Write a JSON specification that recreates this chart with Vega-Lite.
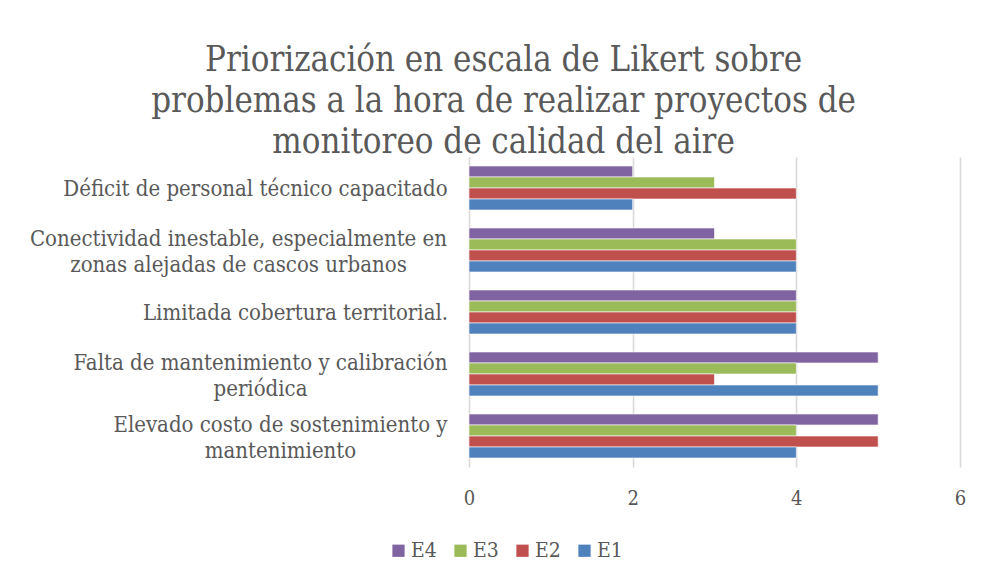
{
  "$schema": "https://vega.github.io/schema/vega-lite/v6.json",
  "width": 491,
  "height": 310,
  "autosize": {"type": "none"},
  "padding": {"left": 469, "top": 157, "right": 21, "bottom": 116},
  "background": "white",
  "title": {
    "text": ["Priorización en escala de Likert sobre", "problemas a la hora de realizar proyectos de", "monitoreo de calidad del aire"],
    "font": "DejaVu Serif Condensed",
    "fontSize": 34.5,
    "fontWeight": "normal",
    "color": "#595959",
    "lineHeight": 41,
    "anchor": "middle",
    "frame": "bounds",
    "offset": -3,
    "dx": 6
  },
  "data": {
    "values": [
      {"problema": "Déficit de personal técnico capacitado", "serie": "E4", "valor": 2},
      {"problema": "Déficit de personal técnico capacitado", "serie": "E3", "valor": 3},
      {"problema": "Déficit de personal técnico capacitado", "serie": "E2", "valor": 4},
      {"problema": "Déficit de personal técnico capacitado", "serie": "E1", "valor": 2},
      {"problema": "Conectividad inestable, especialmente en\nzonas alejadas de cascos urbanos", "serie": "E4", "valor": 3},
      {"problema": "Conectividad inestable, especialmente en\nzonas alejadas de cascos urbanos", "serie": "E3", "valor": 4},
      {"problema": "Conectividad inestable, especialmente en\nzonas alejadas de cascos urbanos", "serie": "E2", "valor": 4},
      {"problema": "Conectividad inestable, especialmente en\nzonas alejadas de cascos urbanos", "serie": "E1", "valor": 4},
      {"problema": "Limitada cobertura territorial.", "serie": "E4", "valor": 4},
      {"problema": "Limitada cobertura territorial.", "serie": "E3", "valor": 4},
      {"problema": "Limitada cobertura territorial.", "serie": "E2", "valor": 4},
      {"problema": "Limitada cobertura territorial.", "serie": "E1", "valor": 4},
      {"problema": "Falta de mantenimiento y calibración\nperiódica", "serie": "E4", "valor": 5},
      {"problema": "Falta de mantenimiento y calibración\nperiódica", "serie": "E3", "valor": 4},
      {"problema": "Falta de mantenimiento y calibración\nperiódica", "serie": "E2", "valor": 3},
      {"problema": "Falta de mantenimiento y calibración\nperiódica", "serie": "E1", "valor": 5},
      {"problema": "Elevado costo de sostenimiento y\nmantenimiento", "serie": "E4", "valor": 5},
      {"problema": "Elevado costo de sostenimiento y\nmantenimiento", "serie": "E3", "valor": 4},
      {"problema": "Elevado costo de sostenimiento y\nmantenimiento", "serie": "E2", "valor": 5},
      {"problema": "Elevado costo de sostenimiento y\nmantenimiento", "serie": "E1", "valor": 4}
    ]
  },
  "mark": {"type": "bar", "stroke": "white", "strokeWidth": 0.6},
  "encoding": {
    "y": {
      "field": "problema",
      "type": "nominal",
      "sort": null,
      "scale": {"paddingInner": 0.29, "paddingOuter": 0.145},
      "axis": {
        "title": null,
        "domain": false,
        "ticks": false,
        "labelExpr": "split(datum.label, '\\n')",
        "labelFont": "DejaVu Serif Condensed",
        "labelFontSize": 22,
        "labelColor": "#595959",
        "labelAlign": "center",
        "labelPadding": {
          "condition": [
            {"test": "indexof(datum.value, 'Conectividad') == 0", "value": 231},
            {"test": "indexof(datum.value, 'Falta') == 0", "value": 209},
            {"test": "indexof(datum.value, 'Elevado') == 0", "value": 189},
            {"test": "indexof(datum.value, 'Déficit') == 0", "value": 214}
          ],
          "value": 174
        },
        "labelOffset": {"condition": {"test": "indexof(datum.value, '\\n') >= 0", "value": -11}, "value": 1},
        "labelLineHeight": 26,
        "labelLimit": 0
      }
    },
    "yOffset": {
      "field": "serie",
      "type": "nominal",
      "sort": ["E4", "E3", "E2", "E1"],
      "scale": {"paddingInner": 0, "paddingOuter": 0}
    },
    "x": {
      "field": "valor",
      "type": "quantitative",
      "scale": {"domain": [0, 6], "nice": false},
      "axis": {
        "title": null,
        "values": [0, 2, 4, 6],
        "domain": false,
        "grid": true,
        "gridColor": "#D9D9D9",
        "gridWidth": 1.6,
        "ticks": false,
        "labelFlush": false,
        "labelFont": "DejaVu Serif Condensed",
        "labelFontSize": 20,
        "labelColor": "#595959",
        "labelPadding": 21
      }
    },
    "color": {
      "field": "serie",
      "type": "nominal",
      "scale": {"domain": ["E1", "E2", "E3", "E4"], "range": ["#4F81BD", "#C0504D", "#9BBB59", "#8064A2"]},
      "legend": {
        "title": null,
        "orient": "none",
        "direction": "horizontal",
        "legendX": -81,
        "legendY": 383,
        "values": ["E4", "E3", "E2", "E1"],
        "symbolType": "square",
        "symbolSize": 150,
        "symbolStrokeWidth": 0,
        "labelFont": "DejaVu Serif Condensed",
        "labelFontSize": 21,
        "labelColor": "#595959",
        "columnPadding": 13,
        "labelOffset": 2
      }
    }
  },
  "config": {"view": {"stroke": null}}
}
